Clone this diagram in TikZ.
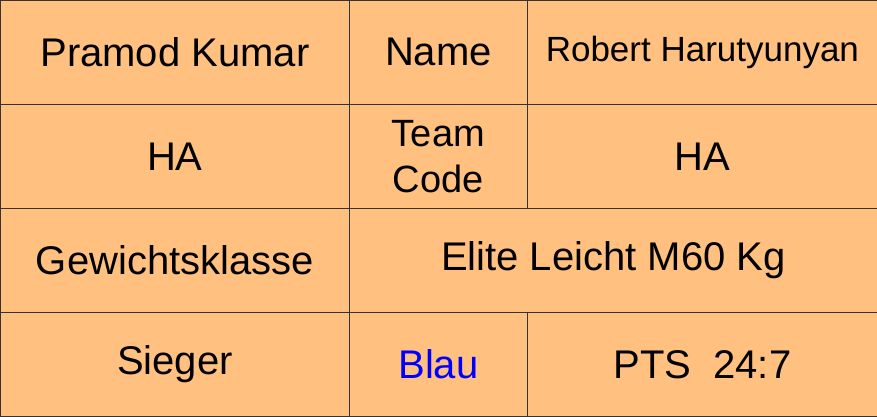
\documentclass[tikz,border=0pt]{standalone}
\usepackage{fontspec}
\setmainfont{Liberation Sans}
\definecolor{cellbg}{HTML}{FFC080}
\tikzset{
  cell/.style={draw=black!80, fill=cellbg, line width=0.8pt, inner sep=0pt,
    anchor=north west, font=\fontsize{40}{44}\selectfont},
}
\begin{document}
\begin{tikzpicture}[x=1pt,y=-1pt]
  \useasboundingbox (0,0) rectangle (877,416);

  % Row 1
  \node[cell, minimum width=349pt, minimum height=104pt] (kumar) at (0,0) {Pramod Kumar};
  \node[cell, minimum width=178pt, minimum height=104pt] (name) at (349,0) {Name};
  \node[cell, minimum width=350pt, minimum height=104pt, font=\fontsize{35}{40}\selectfont] (robert) at (527,0) {Robert Harutyunyan};

  % Row 2
  \node[cell, minimum width=349pt, minimum height=104pt] (teamA) at (0,104) {HA};
  \node[cell, minimum width=178pt, minimum height=104pt, align=center,
        font=\fontsize{38}{46}\selectfont] (code) at (349,104) {Team\\Code};
  \node[cell, minimum width=350pt, minimum height=104pt] (teamB) at (527,104) {HA};

  % Row 3
  \node[cell, minimum width=349pt, minimum height=104pt] (klasse) at (0,208) {Gewichtsklasse};
  \node[cell, minimum width=528pt, minimum height=104pt] (elite) at (349,208) {Elite Leicht M60 Kg};

  % Row 4
  \node[cell, minimum width=349pt, minimum height=104pt] (sieger) at (0,312) {Sieger};
  \node[cell, minimum width=178pt, minimum height=104pt, text=blue] (blau) at (349,312) {Blau};
  \node[cell, minimum width=350pt, minimum height=104pt] (pts) at (527,312) {PTS\ \ 24:7};
\end{tikzpicture}
\end{document}
